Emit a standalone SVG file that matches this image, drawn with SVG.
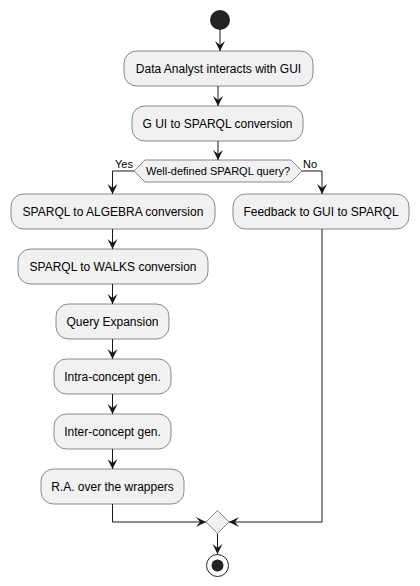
<svg xmlns="http://www.w3.org/2000/svg" width="420" height="586" viewBox="0 0 420 586">
<defs>
<marker id="ah" markerWidth="10" markerHeight="12" refX="10" refY="5" orient="auto" markerUnits="userSpaceOnUse" viewBox="0 0 10 10">
<path d="M0,0 L10,5 L0,10 L4,5 Z" fill="#181818"/>
</marker>
</defs>
<style>
.box{fill:#F1F1F1;stroke:#181818;stroke-width:0.5}
.t{font-family:"Liberation Sans",Arial,sans-serif;font-size:12px;fill:#000;text-anchor:middle}
.s{font-family:"Liberation Sans",Arial,sans-serif;font-size:11px;fill:#000}
.c{fill:none;stroke:#181818;stroke-width:1}
</style>
<rect width="420" height="586" fill="#FFFFFF"/>
<g id="connectors">
<path class="c" d="M220,30 L220,51" marker-end="url(#ah)"/>
<path class="c" d="M218,86 L218,106" marker-end="url(#ah)"/>
<path class="c" d="M218,141 L218,160" marker-end="url(#ah)"/>
<path class="c" d="M134,171 L112.5,171 L112.5,194" marker-end="url(#ah)"/>
<path class="c" d="M302,171 L322,171 L322,194" marker-end="url(#ah)"/>
<path class="c" d="M112.5,229 L112.5,249" marker-end="url(#ah)"/>
<path class="c" d="M112.5,284 L112.5,304" marker-end="url(#ah)"/>
<path class="c" d="M112.5,339 L112.5,359" marker-end="url(#ah)"/>
<path class="c" d="M112.5,394 L112.5,414" marker-end="url(#ah)"/>
<path class="c" d="M112.5,449 L112.5,469" marker-end="url(#ah)"/>
<path class="c" d="M112.5,504 L112.5,522 L206,522" marker-end="url(#ah)"/>
<path class="c" d="M322,229 L322,522 L229,522" marker-end="url(#ah)"/>
<path class="c" d="M217.5,534 L217.5,554" marker-end="url(#ah)"/>
<text class="s" x="115" y="168">Yes</text>
<text class="s" x="303" y="168">No</text>
</g>
<g id="start"><circle cx="220" cy="20" r="10" fill="#222222"/></g>
<g id="n1"><rect class="box" x="124" y="51" width="189" height="35" rx="12.5"/><text class="t" x="218.5" y="73.3">Data Analyst interacts with GUI</text></g>
<g id="n2"><rect class="box" x="132" y="106" width="171" height="35" rx="12.5"/><text class="t" x="217.5" y="128.3">G UI to SPARQL conversion</text></g>
<g id="dec"><polygon class="box" points="134,171 145,160 291,160 302,171 291,182 145,182"/><text class="s" x="218" y="175" text-anchor="middle">Well-defined SPARQL query?</text></g>
<g id="n3"><rect class="box" x="11" y="194" width="204" height="35" rx="12.5"/><text class="t" x="113" y="216.3">SPARQL to ALGEBRA conversion</text></g>
<g id="n4"><rect class="box" x="233" y="194" width="176" height="35" rx="12.5"/><text class="t" x="321" y="216.3">Feedback to GUI to SPARQL</text></g>
<g id="n5"><rect class="box" x="18" y="249" width="190" height="35" rx="12.5"/><text class="t" x="113" y="271.3">SPARQL to WALKS conversion</text></g>
<g id="n6"><rect class="box" x="56" y="304" width="113" height="35" rx="12.5"/><text class="t" x="112.5" y="326.3">Query Expansion</text></g>
<g id="n7"><rect class="box" x="54" y="359" width="117" height="35" rx="12.5"/><text class="t" x="112.5" y="381.3">Intra-concept gen.</text></g>
<g id="n8"><rect class="box" x="54" y="414" width="117" height="35" rx="12.5"/><text class="t" x="112.5" y="436.3">Inter-concept gen.</text></g>
<g id="n9"><rect class="box" x="41" y="469" width="143" height="35" rx="12.5"/><text class="t" x="112.5" y="491.3">R.A. over the wrappers</text></g>
<g id="merge"><polygon class="box" points="217.5,510.5 229,522 217.5,533.5 206,522"/></g>
<g id="end"><circle cx="217.5" cy="565.5" r="11" fill="none" stroke="#222222" stroke-width="1"/><circle cx="217.5" cy="565.5" r="6" fill="#222222"/></g>
</svg>
